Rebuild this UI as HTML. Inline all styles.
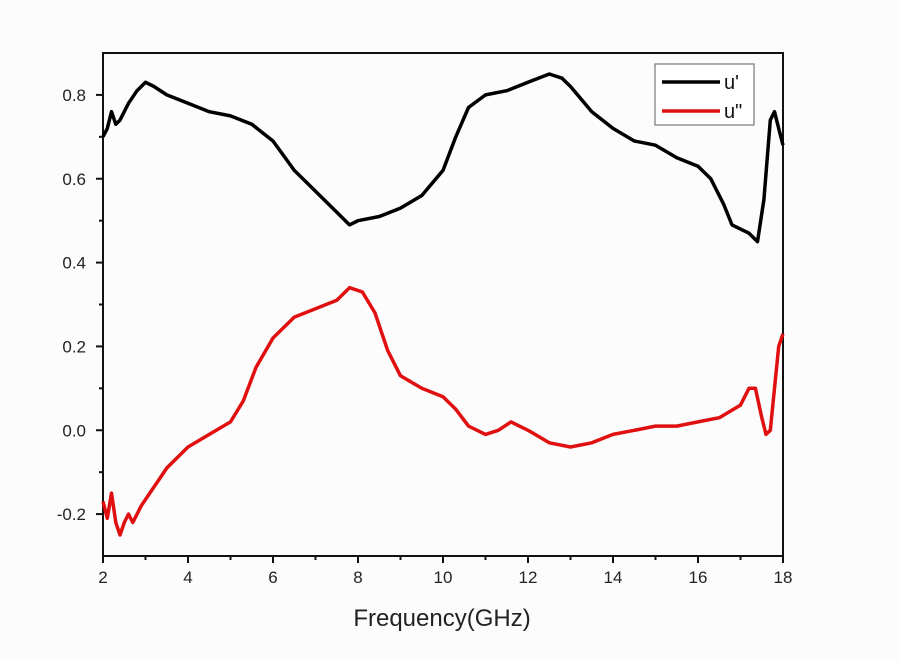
<!DOCTYPE html>
<html><head><meta charset="utf-8"><style>
body{margin:0;background:#fff;}
svg{display:block;font-family:"Liberation Sans",sans-serif;}
</style></head><body>
<svg id="chart" width="900" height="661" viewBox="0 0 900 661">
<rect width="900" height="661" fill="#fcfcfc"/>
<g id="axes"></g>
<g id="series"></g>
<text x="442" y="626" font-size="24" text-anchor="middle" fill="#222">Frequency(GHz)</text>
<g>
<rect x="655" y="64" width="99" height="61" fill="#fff" stroke="#777" stroke-width="1.2"/>
<line x1="662" y1="82" x2="720" y2="82" stroke="#000" stroke-width="3.5"/>
<text x="724" y="89" font-size="20" fill="#111">u'</text>
<line x1="662" y1="111" x2="720" y2="111" stroke="#e01010" stroke-width="3.5"/>
<text x="724" y="118" font-size="20" fill="#111">u"</text>
</g>
</svg>
<script>
const uPrimeFreq=[2,2.1,2.2,2.3,2.4,2.6,2.8,3,3.2,3.5,4,4.5,5,5.5,6,6.5,7,7.5,7.8,8,8.5,9,9.5,10,10.3,10.6,11,11.5,12,12.5,12.8,13,13.5,14,14.5,15,15.5,16,16.3,16.6,16.8,17,17.2,17.4,17.55,17.7,17.8,17.9,18];
const uPrimeVals=[0.70,0.72,0.76,0.73,0.74,0.78,0.81,0.83,0.82,0.80,0.78,0.76,0.75,0.73,0.69,0.62,0.57,0.52,0.49,0.50,0.51,0.53,0.56,0.62,0.70,0.77,0.80,0.81,0.83,0.85,0.84,0.82,0.76,0.72,0.69,0.68,0.65,0.63,0.60,0.54,0.49,0.48,0.47,0.45,0.55,0.74,0.76,0.72,0.68];
const uDblFreq=[2,2.1,2.2,2.3,2.4,2.5,2.6,2.7,2.9,3.1,3.3,3.5,4,4.5,5,5.3,5.6,6,6.5,7,7.5,7.8,8.1,8.4,8.7,9,9.5,10,10.3,10.6,11,11.3,11.6,12,12.5,13,13.5,14,14.5,15,15.5,16,16.5,17,17.2,17.35,17.5,17.6,17.7,17.8,17.9,18];
const uDblVals=[-0.17,-0.21,-0.15,-0.22,-0.25,-0.22,-0.20,-0.22,-0.18,-0.15,-0.12,-0.09,-0.04,-0.01,0.02,0.07,0.15,0.22,0.27,0.29,0.31,0.34,0.33,0.28,0.19,0.13,0.10,0.08,0.05,0.01,-0.01,0.00,0.02,0.00,-0.03,-0.04,-0.03,-0.01,0.00,0.01,0.01,0.02,0.03,0.06,0.10,0.10,0.03,-0.01,0.00,0.10,0.20,0.23];
const xTicks=[2,4,6,8,10,12,14,16,18];
const xTickLabels=["2","4","6","8","10","12","14","16","18"];
const yTicks=[-0.2,0,0.2,0.4,0.6,0.8];
const yTickLabels=["-0.2","0.0","0.2","0.4","0.6","0.8"];
const L=103,R=783,T=53,B=556,X0=2,X1=18,Y0=-0.3,Y1=0.9;
const sx=v=>L+(v-X0)/(X1-X0)*(R-L);
const sy=v=>B-(v-Y0)/(Y1-Y0)*(B-T);
const NS="http://www.w3.org/2000/svg";
const axes=document.getElementById('axes'),series=document.getElementById('series');
function mk(tag,attrs,parent){const e=document.createElementNS(NS,tag);for(const k in attrs)e.setAttribute(k,attrs[k]);parent.appendChild(e);return e;}
const frame=mk('rect',{x:L,y:T,width:R-L,height:B-T,fill:'none',stroke:'#111','stroke-width':2},axes);


xTicks.forEach((v,i)=>{
 const t=mk('line',{x1:sx(v),x2:sx(v),y1:B,y2:B+7,stroke:'#111','stroke-width':2},axes);
 
 
 if(i<xTicks.length-1){const m=mk('line',{x1:sx(v+1),x2:sx(v+1),y1:B,y2:B+4,stroke:'#111','stroke-width':2},axes);
 
 }
 const tx=mk('text',{x:sx(v),y:B+27,'font-size':17,'text-anchor':'middle',fill:'#222'},axes);
 tx.textContent=xTickLabels[i];
 
 
});
yTicks.forEach((v,i)=>{
 const t=mk('line',{x1:L-7,x2:L,y1:sy(v),y2:sy(v),stroke:'#111','stroke-width':2},axes);
 
 
 const tx=mk('text',{x:L-17,y:sy(v)+6,'font-size':17,'text-anchor':'end',fill:'#222'},axes);
 tx.textContent=yTickLabels[i];
 
 
});
[-0.1,0.1,0.3,0.5,0.7].forEach(v=>{
 const m=mk('line',{x1:L-4,x2:L,y1:sy(v),y2:sy(v),stroke:'#111','stroke-width':2},axes);
 
 
});
function draw(xs,ys,color,name){
 const d=xs.map((x,i)=>(i?'L':'M')+sx(x).toFixed(1)+','+sy(ys[i]).toFixed(1)).join('');
 const p=mk('path',{d:d,fill:'none',stroke:color,'stroke-width':3.5,'stroke-linejoin':'round'},series);
 
 
}
draw(uPrimeFreq,uPrimeVals,'#000','line-u-prime');
draw(uDblFreq,uDblVals,'#e01010','line-u-double-prime');
</script>
</body></html>
